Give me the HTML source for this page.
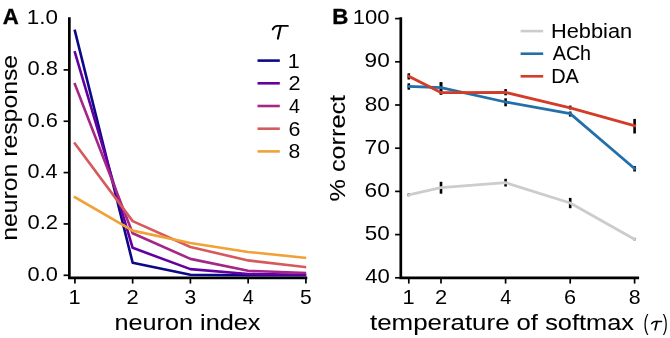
<!DOCTYPE html>
<html><head><meta charset="utf-8"><style>
html,body{margin:0;padding:0;background:#fff;width:670px;height:338px;overflow:hidden}
svg{display:block;will-change:transform}
text{font-family:"Liberation Sans", sans-serif}
.lb{stroke:#000;stroke-width:0.08px}
.lg{stroke:#000;stroke-width:0.05px}
.bd{stroke:#000;stroke-width:0.35px}
</style></head><body>
<svg width="670" height="338" viewBox="0 0 670 338">
<rect width="670" height="338" fill="#fff"/>
<path d="M63.6,275.30H69.35" fill="none" stroke="#000" stroke-width="1.7" stroke-linecap="butt" stroke-linejoin="round"/>
<path d="M63.6,223.95H69.35" fill="none" stroke="#000" stroke-width="1.7" stroke-linecap="butt" stroke-linejoin="round"/>
<path d="M63.6,172.60H69.35" fill="none" stroke="#000" stroke-width="1.7" stroke-linecap="butt" stroke-linejoin="round"/>
<path d="M63.6,121.25H69.35" fill="none" stroke="#000" stroke-width="1.7" stroke-linecap="butt" stroke-linejoin="round"/>
<path d="M63.6,69.90H69.35" fill="none" stroke="#000" stroke-width="1.7" stroke-linecap="butt" stroke-linejoin="round"/>
<text x="27.55" y="280.80" font-size="20.4" textLength="30.30" lengthAdjust="spacingAndGlyphs" fill="#000">0.0</text>
<text x="27.54" y="229.45" font-size="20.4" textLength="30.56" lengthAdjust="spacingAndGlyphs" fill="#000">0.2</text>
<text x="27.55" y="178.10" font-size="20.4" textLength="30.08" lengthAdjust="spacingAndGlyphs" fill="#000">0.4</text>
<text x="27.55" y="126.75" font-size="20.4" textLength="30.42" lengthAdjust="spacingAndGlyphs" fill="#000">0.6</text>
<text x="27.55" y="75.40" font-size="20.4" textLength="30.40" lengthAdjust="spacingAndGlyphs" fill="#000">0.8</text>
<text x="26.69" y="24.05" font-size="20.4" textLength="31.19" lengthAdjust="spacingAndGlyphs" fill="#000">1.0</text>
<path d="M74.90,277.8V283.6" fill="none" stroke="#000" stroke-width="1.7" stroke-linecap="butt" stroke-linejoin="round"/>
<text x="68.54" y="303.80" font-size="20.4" textLength="12.13" lengthAdjust="spacingAndGlyphs" fill="#000">1</text>
<path d="M132.65,277.8V283.6" fill="none" stroke="#000" stroke-width="1.7" stroke-linecap="butt" stroke-linejoin="round"/>
<text x="126.55" y="303.80" font-size="20.4" textLength="12.21" lengthAdjust="spacingAndGlyphs" fill="#000">2</text>
<path d="M190.40,277.8V283.6" fill="none" stroke="#000" stroke-width="1.7" stroke-linecap="butt" stroke-linejoin="round"/>
<text x="184.60" y="303.80" font-size="20.4" textLength="11.73" lengthAdjust="spacingAndGlyphs" fill="#000">3</text>
<path d="M248.15,277.8V283.6" fill="none" stroke="#000" stroke-width="1.7" stroke-linecap="butt" stroke-linejoin="round"/>
<text x="242.69" y="303.80" font-size="20.4" textLength="11.04" lengthAdjust="spacingAndGlyphs" fill="#000">4</text>
<path d="M305.90,277.8V283.6" fill="none" stroke="#000" stroke-width="1.7" stroke-linecap="butt" stroke-linejoin="round"/>
<text x="300.06" y="303.80" font-size="20.4" textLength="11.73" lengthAdjust="spacingAndGlyphs" fill="#000">5</text>
<path d="M69.35,18.55V277.8H305.95" fill="none" stroke="#000" stroke-width="2.7" stroke-linecap="square" stroke-linejoin="miter"/>
<clipPath id="ca"><rect x="60" y="10" width="246.2" height="280"/></clipPath><g clip-path="url(#ca)">
<path d="M74.90,30.87 L132.65,262.72 L190.40,274.79 L248.15,275.30 L305.90,275.30" fill="none" stroke="#0d0887" stroke-width="2.6" stroke-linecap="square" stroke-linejoin="round"/>
<path d="M74.90,52.44 L132.65,247.83 L190.40,269.14 L248.15,274.02 L305.90,274.79" fill="none" stroke="#6400a0" stroke-width="2.6" stroke-linecap="square" stroke-linejoin="round"/>
<path d="M74.90,84.28 L132.65,233.19 L190.40,258.87 L248.15,270.81 L305.90,272.99" fill="none" stroke="#a42686" stroke-width="2.6" stroke-linecap="square" stroke-linejoin="round"/>
<path d="M74.90,143.59 L132.65,221.13 L190.40,247.06 L248.15,260.41 L305.90,267.08" fill="none" stroke="#d65a5c" stroke-width="2.6" stroke-linecap="square" stroke-linejoin="round"/>
<path d="M74.90,197.25 L132.65,230.63 L190.40,242.95 L248.15,251.94 L305.90,257.84" fill="none" stroke="#f0a236" stroke-width="2.6" stroke-linecap="square" stroke-linejoin="round"/>
</g>
<path d="M272.7,29.4 Q274.3,25.9 277.6,25.9 L287.9,25.9" fill="none" stroke="#000" stroke-width="1.9" stroke-linecap="round" stroke-linejoin="round"/>
<path d="M280.6,26.4 L277.9,38.6" fill="none" stroke="#000" stroke-width="2.1" stroke-linecap="round" stroke-linejoin="round"/>
<path d="M257.5,60.60H279.8" fill="none" stroke="#0d0887" stroke-width="2.6" stroke-linecap="butt" stroke-linejoin="round"/>
<text x="287.86" y="67.50" font-size="20.4" textLength="12.00" lengthAdjust="spacingAndGlyphs" fill="#000">1</text>
<path d="M257.5,83.30H279.8" fill="none" stroke="#6400a0" stroke-width="2.6" stroke-linecap="butt" stroke-linejoin="round"/>
<text x="288.41" y="90.20" font-size="20.4" textLength="12.09" lengthAdjust="spacingAndGlyphs" fill="#000">2</text>
<path d="M257.5,106.00H279.8" fill="none" stroke="#a42686" stroke-width="2.6" stroke-linecap="butt" stroke-linejoin="round"/>
<text x="289.05" y="112.90" font-size="20.4" textLength="10.93" lengthAdjust="spacingAndGlyphs" fill="#000">4</text>
<path d="M257.5,128.70H279.8" fill="none" stroke="#d65a5c" stroke-width="2.6" stroke-linecap="butt" stroke-linejoin="round"/>
<text x="288.41" y="135.60" font-size="20.4" textLength="11.93" lengthAdjust="spacingAndGlyphs" fill="#000">6</text>
<path d="M257.5,151.40H279.8" fill="none" stroke="#f0a236" stroke-width="2.6" stroke-linecap="butt" stroke-linejoin="round"/>
<text x="288.58" y="158.30" font-size="20.4" textLength="11.73" lengthAdjust="spacingAndGlyphs" fill="#000">8</text>
<text x="2.75" y="23.60" font-size="22.6" font-weight="bold" textLength="16.04" lengthAdjust="spacingAndGlyphs" fill="#000" class="bd">A</text>
<text x="114.53" y="330.10" font-size="22" textLength="145.85" lengthAdjust="spacingAndGlyphs" fill="#000" class="lb">neuron index</text>
<text transform="rotate(-90)" x="-240.85" y="17.20" font-size="22" textLength="185.95" lengthAdjust="spacingAndGlyphs" fill="#000" class="lb">neuron response</text>
<path d="M395.1,277.80H400.8" fill="none" stroke="#000" stroke-width="1.7" stroke-linecap="butt" stroke-linejoin="round"/>
<text x="365.19" y="283.40" font-size="20.4" textLength="24.57" lengthAdjust="spacingAndGlyphs" fill="#000">40</text>
<path d="M395.1,234.60H400.8" fill="none" stroke="#000" stroke-width="1.7" stroke-linecap="butt" stroke-linejoin="round"/>
<text x="364.80" y="240.20" font-size="20.4" textLength="24.98" lengthAdjust="spacingAndGlyphs" fill="#000">50</text>
<path d="M395.1,191.40H400.8" fill="none" stroke="#000" stroke-width="1.7" stroke-linecap="butt" stroke-linejoin="round"/>
<text x="364.55" y="197.00" font-size="20.4" textLength="25.24" lengthAdjust="spacingAndGlyphs" fill="#000">60</text>
<path d="M395.1,148.20H400.8" fill="none" stroke="#000" stroke-width="1.7" stroke-linecap="butt" stroke-linejoin="round"/>
<text x="364.54" y="153.80" font-size="20.4" textLength="25.25" lengthAdjust="spacingAndGlyphs" fill="#000">70</text>
<path d="M395.1,105.00H400.8" fill="none" stroke="#000" stroke-width="1.7" stroke-linecap="butt" stroke-linejoin="round"/>
<text x="364.72" y="110.60" font-size="20.4" textLength="25.06" lengthAdjust="spacingAndGlyphs" fill="#000">80</text>
<path d="M395.1,61.80H400.8" fill="none" stroke="#000" stroke-width="1.7" stroke-linecap="butt" stroke-linejoin="round"/>
<text x="364.64" y="67.40" font-size="20.4" textLength="25.14" lengthAdjust="spacingAndGlyphs" fill="#000">90</text>
<path d="M395.1,18.60H400.8" fill="none" stroke="#000" stroke-width="1.7" stroke-linecap="butt" stroke-linejoin="round"/>
<text x="352.72" y="24.20" font-size="20.4" textLength="36.84" lengthAdjust="spacingAndGlyphs" fill="#000">100</text>
<path d="M408.80,277.8V283.6" fill="none" stroke="#000" stroke-width="1.7" stroke-linecap="butt" stroke-linejoin="round"/>
<text x="402.44" y="303.80" font-size="20.4" textLength="12.13" lengthAdjust="spacingAndGlyphs" fill="#000">1</text>
<path d="M441.00,277.8V283.6" fill="none" stroke="#000" stroke-width="1.7" stroke-linecap="butt" stroke-linejoin="round"/>
<text x="434.90" y="303.80" font-size="20.4" textLength="12.21" lengthAdjust="spacingAndGlyphs" fill="#000">2</text>
<path d="M505.60,277.8V283.6" fill="none" stroke="#000" stroke-width="1.7" stroke-linecap="butt" stroke-linejoin="round"/>
<text x="500.14" y="303.80" font-size="20.4" textLength="11.04" lengthAdjust="spacingAndGlyphs" fill="#000">4</text>
<path d="M570.20,277.8V283.6" fill="none" stroke="#000" stroke-width="1.7" stroke-linecap="butt" stroke-linejoin="round"/>
<text x="564.10" y="303.80" font-size="20.4" textLength="12.05" lengthAdjust="spacingAndGlyphs" fill="#000">6</text>
<path d="M634.60,277.8V283.6" fill="none" stroke="#000" stroke-width="1.7" stroke-linecap="butt" stroke-linejoin="round"/>
<text x="628.67" y="303.80" font-size="20.4" textLength="11.85" lengthAdjust="spacingAndGlyphs" fill="#000">8</text>
<path d="M400.8,18.6V277.8H637.75" fill="none" stroke="#000" stroke-width="2.7" stroke-linecap="square" stroke-linejoin="miter"/>
<path d="M408.80,193.4V196.2" fill="none" stroke="#000" stroke-width="2.6" stroke-linecap="butt" stroke-linejoin="round"/>
<path d="M441.00,181.8V193.7" fill="none" stroke="#000" stroke-width="2.6" stroke-linecap="butt" stroke-linejoin="round"/>
<path d="M505.60,178.8V186.5" fill="none" stroke="#000" stroke-width="2.6" stroke-linecap="butt" stroke-linejoin="round"/>
<path d="M570.20,197.9V208.2" fill="none" stroke="#000" stroke-width="2.6" stroke-linecap="butt" stroke-linejoin="round"/>
<path d="M634.60,237.9V240.3" fill="none" stroke="#000" stroke-width="2.6" stroke-linecap="butt" stroke-linejoin="round"/>
<path d="M408.80,83.3V89.7" fill="none" stroke="#000" stroke-width="2.6" stroke-linecap="butt" stroke-linejoin="round"/>
<path d="M441.00,82.2V94.6" fill="none" stroke="#000" stroke-width="2.6" stroke-linecap="butt" stroke-linejoin="round"/>
<path d="M505.60,98.3V106.3" fill="none" stroke="#000" stroke-width="2.6" stroke-linecap="butt" stroke-linejoin="round"/>
<path d="M570.20,111.5V116.6" fill="none" stroke="#000" stroke-width="2.6" stroke-linecap="butt" stroke-linejoin="round"/>
<path d="M634.60,166.1V171.5" fill="none" stroke="#000" stroke-width="2.6" stroke-linecap="butt" stroke-linejoin="round"/>
<path d="M408.80,73.3V79.5" fill="none" stroke="#000" stroke-width="2.6" stroke-linecap="butt" stroke-linejoin="round"/>
<path d="M441.00,82.2V94.6" fill="none" stroke="#000" stroke-width="2.6" stroke-linecap="butt" stroke-linejoin="round"/>
<path d="M505.60,89.1V95.3" fill="none" stroke="#000" stroke-width="2.6" stroke-linecap="butt" stroke-linejoin="round"/>
<path d="M570.20,105.6V109.5" fill="none" stroke="#000" stroke-width="2.6" stroke-linecap="butt" stroke-linejoin="round"/>
<path d="M634.60,118.9V133.5" fill="none" stroke="#000" stroke-width="2.6" stroke-linecap="butt" stroke-linejoin="round"/>
<path d="M408.80,194.8 L441.00,187.7 L505.60,182.7 L570.20,203.0 L634.60,239.3" fill="none" stroke="#cccccc" stroke-width="2.8" stroke-linecap="square" stroke-linejoin="round"/>
<path d="M408.80,86.4 L441.00,87.7 L505.60,102.0 L570.20,113.6 L634.60,168.6" fill="none" stroke="#2270aa" stroke-width="2.8" stroke-linecap="square" stroke-linejoin="round"/>
<path d="M408.80,76.3 L441.00,92.6 L505.60,92.4 L570.20,107.8 L634.60,125.8" fill="none" stroke="#d23d2a" stroke-width="2.8" stroke-linecap="square" stroke-linejoin="round"/>
<path d="M520.6,31.10H543.2" fill="none" stroke="#cccccc" stroke-width="2.6" stroke-linecap="butt" stroke-linejoin="round"/>
<text x="551.01" y="37.80" font-size="20.8" textLength="81.20" lengthAdjust="spacingAndGlyphs" fill="#000" class="lg">Hebbian</text>
<path d="M520.6,53.70H543.2" fill="none" stroke="#2270aa" stroke-width="2.6" stroke-linecap="butt" stroke-linejoin="round"/>
<text x="552.76" y="60.40" font-size="20.8" textLength="38.32" lengthAdjust="spacingAndGlyphs" fill="#000" class="lg">ACh</text>
<path d="M520.6,76.30H543.2" fill="none" stroke="#d23d2a" stroke-width="2.6" stroke-linecap="butt" stroke-linejoin="round"/>
<text x="551.17" y="83.00" font-size="20.8" textLength="27.67" lengthAdjust="spacingAndGlyphs" fill="#000" class="lg">DA</text>
<text x="332.31" y="23.60" font-size="22.6" font-weight="bold" textLength="16.10" lengthAdjust="spacingAndGlyphs" fill="#000" class="bd">B</text>
<text x="370.01" y="329.80" font-size="22" textLength="139.54" lengthAdjust="spacingAndGlyphs" fill="#000" class="lb">temperature</text>
<text x="516.52" y="329.80" font-size="22" textLength="21.44" lengthAdjust="spacingAndGlyphs" fill="#000" class="lb">of</text>
<text x="545.19" y="329.80" font-size="22" textLength="88.78" lengthAdjust="spacingAndGlyphs" fill="#000" class="lb">softmax</text>
<text x="643.56" y="329.50" font-size="21.2" textLength="5.02" lengthAdjust="spacingAndGlyphs" fill="#000">(</text>
<path d="M651.7,323.6 Q652.9,321.4 655.0,321.4 L661.6,321.4" fill="none" stroke="#000" stroke-width="1.5" stroke-linecap="round" stroke-linejoin="round"/>
<path d="M657.0,321.7 L655.1,329.7" fill="none" stroke="#000" stroke-width="1.7" stroke-linecap="round" stroke-linejoin="round"/>
<text x="662.81" y="329.50" font-size="21.2" textLength="5.02" lengthAdjust="spacingAndGlyphs" fill="#000">)</text>
<text transform="rotate(-90)" x="-201.40" y="344.90" font-size="22" textLength="106.38" lengthAdjust="spacingAndGlyphs" fill="#000" class="lb">% correct</text>
</svg>
</body></html>
